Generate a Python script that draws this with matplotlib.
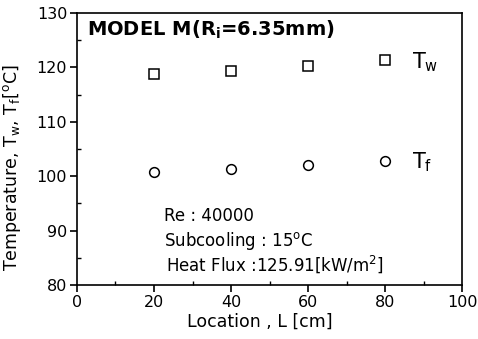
import numpy as np
import matplotlib.pyplot as plt
from matplotlib.ticker import MultipleLocator

location = [20, 40, 60, 80]
t_wall = [118.8, 119.3, 120.3, 121.3]
t_fluid = [100.8, 101.4, 102.1, 102.8]

plt.rcParams['font.family'] = ['DejaVu Sans']
plt.rcParams['mathtext.fontset'] = 'dejavusans'

fig = plt.figure(figsize=(4.78, 3.39), dpi=100)
ax = fig.add_axes([0.161, 0.159, 0.806, 0.803])

ax.plot(location, t_wall, 's', ms=7, mfc='white', mec='black', mew=1.1)
ax.plot(location, t_fluid, 'o', ms=7, mfc='white', mec='black', mew=1.1)

ax.set_xlim(0, 100)
ax.set_ylim(80, 130)
ax.xaxis.set_major_locator(MultipleLocator(20))
ax.xaxis.set_minor_locator(MultipleLocator(10))
ax.yaxis.set_major_locator(MultipleLocator(10))
ax.yaxis.set_minor_locator(MultipleLocator(5))
ax.tick_params(which='major', direction='out', length=5, width=1.2, labelsize=11.5, pad=2)
ax.tick_params(which='minor', direction='in', length=3, width=1)
ax.tick_params(top=False, right=False, which='both')
for s in ax.spines.values():
    s.set_linewidth(1.2)

ax.set_xlabel('Location , L [cm]', fontsize=12.5)
ax.xaxis.set_label_coords(0.475, -0.1)
ax.set_ylabel('Temperature, T$_\\mathregular{w}$, T$_\\mathregular{f}$[$^\\mathregular{o}$C]', fontsize=12.5)
ax.yaxis.set_label_coords(-0.14, 0.43)

ax.text(2.5, 126.9, 'MODEL M(R$_\\mathregular{i}$=6.35mm)', fontsize=14, fontweight='bold', va='center')
ax.text(87, 121, 'T$_\\mathregular{w}$', fontsize=15, va='center')
ax.text(87, 102.5, 'T$_\\mathregular{f}$', fontsize=15, va='center')

ax.text(22.6, 92.7, 'Re : 40000', fontsize=12, va='center')
ax.text(22.6, 88.1, 'Subcooling : 15$^\\mathregular{o}$C', fontsize=12, va='center')
ax.text(23, 83.9, 'Heat Flux :125.91[kW/m$^\\mathregular{2}$]', fontsize=12, va='center')

fig.savefig('out.png', dpi=100)
